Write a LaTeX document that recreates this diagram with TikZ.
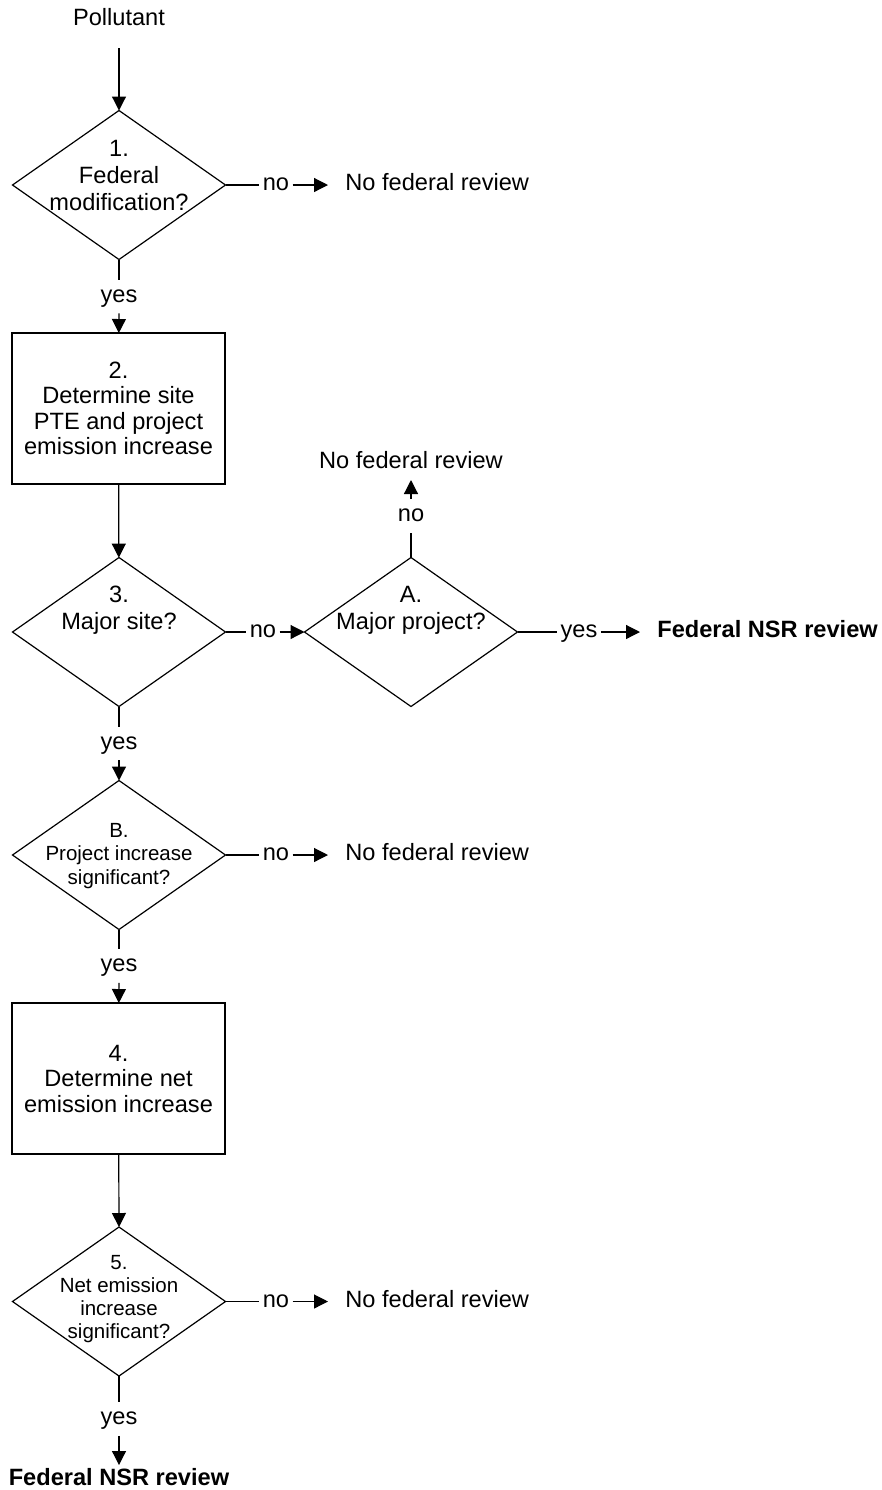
\documentclass[tikz,border=0pt]{standalone}
\usepackage{fontspec}
\setmainfont{Liberation Sans}
\usetikzlibrary{shapes.geometric,arrows.meta}

\tikzset{
  decision/.style={draw, diamond, minimum width=106.5pt, minimum height=74.5pt, inner sep=0pt, outer sep=0pt, line width=0.6pt},
  process/.style={draw, rectangle, minimum width=106.5pt, minimum height=75.5pt, inner sep=0pt, outer sep=0pt, line width=0.6pt, align=center, font=\fontsize{11.8}{12.75}\selectfont},
  qtext/.style={align=center, inner sep=0pt, font=\fontsize{11.8}{13.5}\selectfont},
  qsmall/.style={align=center, inner sep=0pt, font=\fontsize{10.25}{11.6}\selectfont},
  answer/.style={font=\fontsize{11.8}{13.5}\selectfont, text height=8.45pt, text depth=2.5pt, inner xsep=1.5pt, inner ysep=2.8pt},
  outcome/.style={font=\fontsize{11.8}{13.5}\selectfont, text height=8.45pt, text depth=2.5pt, inner xsep=8.5pt, inner ysep=3pt},
  nsr/.style={outcome, font=\fontsize{11.8}{13.5}\selectfont\bfseries},
  link/.style={line width=0.6pt},
  flow/.style={line width=0.6pt, -{Triangle[length=7pt,width=7pt]}}
}

\begin{document}
\begin{tikzpicture}[x=0.5pt, y=-0.5pt]
        \useasboundingbox (0,0) rectangle (882,1490);

        \node[qtext, anchor=base] (poll) at (119,25) {Pollutant};

        \node[decision] (d1) at (119,185) {};
        \node[qtext] (d1t) at (119,175) {1.\\Federal\\modification?};
        \node[answer] (no1) at (276,185) {no};
        \node[outcome, anchor=west] (nf1) at (328,185) {No federal review};
        \node[answer] (yes1) at (119,296.5) {yes};

        \node[process] (b2) at (118.5,408.5) {2.\\Determine site\\PTE and project\\emission increase};

        \node[decision] (d3) at (119,632) {};
        \node[qtext] (d3t) at (119,610) {3.\\Major site?};
        \node[answer] (no3) at (263,632) {no};
        \node[decision] (dA) at (411,632) {};
        \node[qtext] (dAt) at (411,610) {A.\\Major project?};
        \node[answer] (noA) at (411,516) {no};
        \node[outcome, anchor=south] (nfA) at (411,480) {No federal review};
        \node[answer] (yesA) at (579,632) {yes};
        \node[nsr, anchor=west] (nsr1) at (640,632) {Federal NSR review};
        \node[answer] (yes3) at (119,743.5) {yes};

        \node[decision] (dB) at (119,855) {};
        \node[qsmall] (dBt) at (119,856) {B.\\Project increase\\significant?};
        \node[answer] (noB) at (276,855) {no};
        \node[outcome, anchor=west] (nfB) at (328,855) {No federal review};
        \node[answer] (yesB) at (119,966) {yes};

        \node[process] (b4) at (118.5,1078.5) {4.\\Determine net\\emission increase};

        \node[decision] (d5) at (119,1301.5) {};
        \node[qsmall] (d5t) at (119,1299) {5.\\Net emission\\increase\\significant?};
        \node[answer] (no5) at (276,1301.5) {no};
        \node[outcome, anchor=west] (nf5) at (328,1301.5) {No federal review};
        \node[answer] (yes5) at (119,1419) {yes};
        \node[nsr, anchor=north, inner ysep=1.5pt] (nsr2) at (119,1465) {Federal NSR review};

        \draw[flow, shorten <=11.5pt] (poll.base) -- (d1.north);
        \draw[link] (d1.east) -- (no1);
        \draw[flow] (no1) -- (nf1);
        \draw[link] (d1.south) -- (yes1);
        \draw[flow] (yes1) -- (b2);
        \draw[flow] (b2) -- (d3);
        \draw[link] (d3.east) -- (no3);
        \draw[flow] (no3) -- (dA.west);
        \draw[link] (dA.north) -- (noA);
        \draw[flow] (noA) -- (nfA);
        \draw[link] (dA.east) -- (yesA);
        \draw[flow] (yesA) -- (nsr1);
        \draw[link] (d3.south) -- (yes3);
        \draw[flow] (yes3) -- (dB.north);
        \draw[link] (dB.east) -- (noB);
        \draw[flow] (noB) -- (nfB);
        \draw[link] (dB.south) -- (yesB);
        \draw[flow] (yesB) -- (b4);
        \draw[flow] (b4) -- (d5.north);
        \draw[link] (d5.east) -- (no5);
        \draw[flow] (no5) -- (nf5);
        \draw[link] (d5.south) -- (yes5);
        \draw[flow] (yes5) -- (nsr2);
\end{tikzpicture}
\end{document}
